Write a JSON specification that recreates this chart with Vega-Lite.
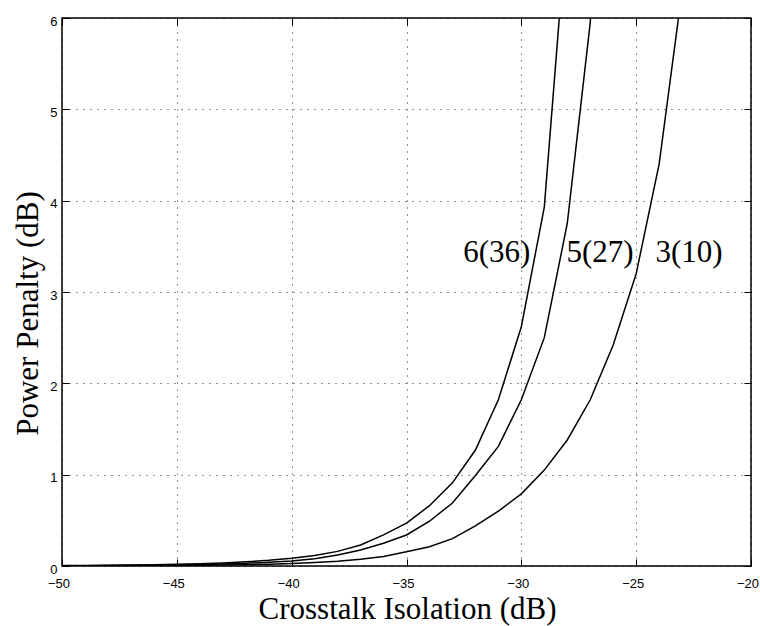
{
  "$schema": "https://vega.github.io/schema/vega-lite/v6.json",
  "width": 689,
  "height": 548,
  "autosize": "none",
  "padding": {"left": 62, "top": 18, "right": 9, "bottom": 60},
  "background": "white",
  "config": {
    "view": {"stroke": "black", "strokeWidth": 1.5},
    "axis": {
      "labelFont": "Liberation Sans",
      "labelFontSize": 13,
      "labelColor": "black",
      "titleFont": "Liberation Serif",
      "titleFontSize": 31,
      "titleFontWeight": "normal",
      "titleColor": "black",
      "domain": false,
      "tickColor": "black",
      "tickWidth": 1,
      "tickSize": -7,
      "gridColor": "black",
      "gridOpacity": 0.85,
      "gridWidth": 1,
      "gridDash": [1, 6]
    }
  },
  "resolve": {"axis": {"x": "independent", "y": "independent"}},
  "layer": [
    {
      "data": {
        "values": [
          {"series": "3(10)", "x": -50, "pp": 0.002}, {"series": "3(10)", "x": -49, "pp": 0.002},
          {"series": "3(10)", "x": -48, "pp": 0.003}, {"series": "3(10)", "x": -47, "pp": 0.004},
          {"series": "3(10)", "x": -46, "pp": 0.005}, {"series": "3(10)", "x": -45, "pp": 0.006},
          {"series": "3(10)", "x": -44, "pp": 0.008}, {"series": "3(10)", "x": -43, "pp": 0.011},
          {"series": "3(10)", "x": -42, "pp": 0.015}, {"series": "3(10)", "x": -41, "pp": 0.02},
          {"series": "3(10)", "x": -40, "pp": 0.027}, {"series": "3(10)", "x": -39, "pp": 0.037},
          {"series": "3(10)", "x": -38, "pp": 0.052}, {"series": "3(10)", "x": -37, "pp": 0.075},
          {"series": "3(10)", "x": -36, "pp": 0.105}, {"series": "3(10)", "x": -35, "pp": 0.155},
          {"series": "3(10)", "x": -34, "pp": 0.21}, {"series": "3(10)", "x": -33, "pp": 0.3},
          {"series": "3(10)", "x": -32, "pp": 0.44}, {"series": "3(10)", "x": -31, "pp": 0.6},
          {"series": "3(10)", "x": -30, "pp": 0.79}, {"series": "3(10)", "x": -29, "pp": 1.05},
          {"series": "3(10)", "x": -28, "pp": 1.38}, {"series": "3(10)", "x": -27, "pp": 1.82},
          {"series": "3(10)", "x": -26, "pp": 2.42}, {"series": "3(10)", "x": -25, "pp": 3.2},
          {"series": "3(10)", "x": -24, "pp": 4.4}, {"series": "3(10)", "x": -23, "pp": 6.3},

          {"series": "5(27)", "x": -50, "pp": 0.003}, {"series": "5(27)", "x": -49, "pp": 0.004},
          {"series": "5(27)", "x": -48, "pp": 0.005}, {"series": "5(27)", "x": -47, "pp": 0.007},
          {"series": "5(27)", "x": -46, "pp": 0.009}, {"series": "5(27)", "x": -45, "pp": 0.012},
          {"series": "5(27)", "x": -44, "pp": 0.016}, {"series": "5(27)", "x": -43, "pp": 0.022},
          {"series": "5(27)", "x": -42, "pp": 0.03}, {"series": "5(27)", "x": -41, "pp": 0.04},
          {"series": "5(27)", "x": -40, "pp": 0.055}, {"series": "5(27)", "x": -39, "pp": 0.08},
          {"series": "5(27)", "x": -38, "pp": 0.12}, {"series": "5(27)", "x": -37, "pp": 0.175},
          {"series": "5(27)", "x": -36, "pp": 0.25}, {"series": "5(27)", "x": -35, "pp": 0.34},
          {"series": "5(27)", "x": -34, "pp": 0.49}, {"series": "5(27)", "x": -33, "pp": 0.69},
          {"series": "5(27)", "x": -32, "pp": 0.99}, {"series": "5(27)", "x": -31, "pp": 1.31},
          {"series": "5(27)", "x": -30, "pp": 1.82}, {"series": "5(27)", "x": -29, "pp": 2.5},
          {"series": "5(27)", "x": -28, "pp": 3.75}, {"series": "5(27)", "x": -27, "pp": 5.95},
          {"series": "5(27)", "x": -26, "pp": 10},

          {"series": "6(36)", "x": -50, "pp": 0.005}, {"series": "6(36)", "x": -49, "pp": 0.006},
          {"series": "6(36)", "x": -48, "pp": 0.008}, {"series": "6(36)", "x": -47, "pp": 0.011},
          {"series": "6(36)", "x": -46, "pp": 0.014}, {"series": "6(36)", "x": -45, "pp": 0.019},
          {"series": "6(36)", "x": -44, "pp": 0.025}, {"series": "6(36)", "x": -43, "pp": 0.034},
          {"series": "6(36)", "x": -42, "pp": 0.046}, {"series": "6(36)", "x": -41, "pp": 0.062},
          {"series": "6(36)", "x": -40, "pp": 0.085}, {"series": "6(36)", "x": -39, "pp": 0.115},
          {"series": "6(36)", "x": -38, "pp": 0.16}, {"series": "6(36)", "x": -37, "pp": 0.23},
          {"series": "6(36)", "x": -36, "pp": 0.34}, {"series": "6(36)", "x": -35, "pp": 0.47},
          {"series": "6(36)", "x": -34, "pp": 0.66}, {"series": "6(36)", "x": -33, "pp": 0.91},
          {"series": "6(36)", "x": -32, "pp": 1.27}, {"series": "6(36)", "x": -31, "pp": 1.82},
          {"series": "6(36)", "x": -30, "pp": 2.62}, {"series": "6(36)", "x": -29, "pp": 3.93},
          {"series": "6(36)", "x": -28, "pp": 7.1}
        ]
      },
      "mark": {"type": "line", "color": "black", "strokeWidth": 1.5, "clip": true},
      "encoding": {
        "x": {
          "field": "x",
          "type": "quantitative",
          "scale": {"domain": [-50, -20], "nice": false},
          "axis": {
            "orient": "bottom",
            "values": [-50, -45, -40, -35, -30, -25, -20],
            "grid": true,
            "labelPadding": 18,
            "labelOffset": -3.5,
            "labelFlush": false,
            "title": "Crosstalk Isolation (dB)",
            "titleX": 345,
            "titleY": 52,
            "titleAlign": "center",
            "titleBaseline": "alphabetic",
            "titleAnchor": null
          }
        },
        "y": {
          "field": "pp",
          "type": "quantitative",
          "scale": {"domain": [0, 6], "nice": false},
          "axis": {
            "orient": "left",
            "values": [0, 1, 2, 3, 4, 5, 6],
            "grid": true,
            "labelPadding": 12,
            "labelOffset": 3,
            "labelFlush": false,
            "title": "Power Penalty (dB)",
            "titleX": -25,
            "titleY": 295,
            "titleAngle": -90,
            "titleAlign": "center",
            "titleBaseline": "alphabetic",
            "titleAnchor": null
          }
        },
        "detail": {"field": "series"}
      }
    },
    {
      "data": {
        "values": [
          {"label": "6(36)", "x": -31.07, "y": 3.33},
          {"label": "5(27)", "x": -26.57, "y": 3.33},
          {"label": "3(10)", "x": -22.7, "y": 3.33}
        ]
      },
      "mark": {
        "type": "text",
        "font": "Liberation Serif",
        "fontSize": 31,
        "color": "black",
        "align": "center",
        "baseline": "alphabetic"
      },
      "encoding": {
        "x": {
          "field": "x",
          "type": "quantitative",
          "axis": {
            "orient": "top",
            "values": [-50, -45, -40, -35, -30, -25, -20],
            "labels": false,
            "grid": false,
            "title": null
          }
        },
        "y": {
          "field": "y",
          "type": "quantitative",
          "axis": {
            "orient": "right",
            "values": [0, 1, 2, 3, 4, 5, 6],
            "labels": false,
            "grid": false,
            "title": null
          }
        },
        "text": {"field": "label"}
      }
    }
  ]
}
